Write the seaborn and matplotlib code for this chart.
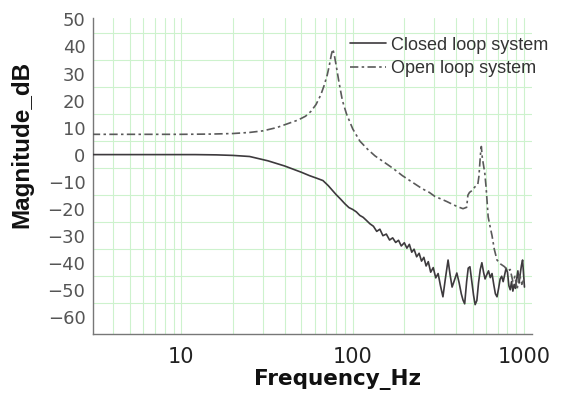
import numpy as np
import pandas as pd
import matplotlib
matplotlib.use("Agg")
import matplotlib.pyplot as plt
from matplotlib.ticker import FixedLocator, NullFormatter
import seaborn as sns

# Closed loop frequency response
closed_freq = [3, 5, 8, 12, 16, 20, 25, 32, 40, 50, 56, 62, 67, 72, 76, 80, 85, 90, 95,
               100, 105, 110, 115, 120, 126, 132, 138, 144, 150, 157, 164, 171, 178, 185,
               192, 200, 207, 214, 221, 228, 236, 244, 252, 260, 268, 276, 285, 295, 305,
               315, 325, 336, 347, 360, 370, 380, 392, 405, 418, 430, 440, 450, 462, 472,
               483, 495, 507, 518, 530, 542, 555, 567, 580, 592, 605, 620, 635, 650, 665,
               680, 695, 710, 725, 740, 755, 770, 785, 800, 815, 830, 845, 860, 875, 890,
               905, 920, 935, 950, 965, 980, 995, 1005]
closed_db = [0, 0, 0, 0, -0.1, -0.3, -0.7, -2.3, -4.2, -6.5, -7.8, -8.8, -9.6, -11.5, -13.2,
             -14.8, -16.5, -18.2, -19.6, -20.3, -21.2, -22.5, -23.2, -24.3, -25.6, -26.5,
             -28.4, -27.6, -30.0, -29.4, -31.6, -30.8, -32.5, -31.7, -33.8, -32.6, -34.6,
             -33.2, -36.1, -35.0, -37.8, -36.5, -39.4, -38.0, -41.2, -39.6, -43.5, -41.8,
             -45.6, -44.0, -48.5, -52.6, -46.0, -39.0, -44.5, -49.0, -46.5, -43.8, -47.5,
             -51.5, -53.8, -55.2, -47.0, -42.0, -41.5, -46.8, -52.0, -55.5, -54.0, -47.5,
             -42.5, -40.0, -43.5, -46.0, -44.5, -43.0, -45.5, -44.0, -48.0, -51.5, -52.6,
             -49.5, -46.0, -45.0, -47.0, -44.5, -42.0, -43.5, -48.5, -50.0, -47.0, -50.5,
             -48.0, -49.5, -46.0, -43.0, -47.5, -44.0, -41.0, -39.0, -45.0, -49.0]

# Open loop frequency response
open_freq = [3, 6, 10, 15, 20, 25, 30, 36, 42, 48, 53, 57, 61, 65, 68, 71, 73, 75, 76.5,
             78, 80, 83, 87, 92, 100, 110, 122, 135, 150, 171, 195, 220, 254, 280, 302,
             330, 355, 385, 410, 440, 462, 470, 480, 492, 503, 515, 527, 537, 545, 552,
             558, 563, 570, 580, 590, 600, 617, 635, 650, 670, 695, 730, 770, 800, 830,
             860, 885, 910, 940, 970, 1000]
open_db = [7.5, 7.5, 7.5, 7.6, 7.8, 8.2, 8.8, 10, 11.5, 12.8, 14.2, 16, 18.5, 22, 25.5,
           29.5, 33, 37, 39, 37, 33, 27, 20, 15, 9.5, 5, 2, -0.5, -2.5, -5, -7.8, -10,
           -12.6, -14, -15.5, -16.5, -17.4, -18.5, -19.3, -20, -19.5, -15, -14, -13.5,
           -13, -12, -11.5, -11, -8, -3, 1, 3, -1, -4, -7, -12, -23, -27, -30, -35, -39,
           -40.5, -41.5, -43, -42.5, -47, -45, -50, -44, -48, -46]

series_names = ["Closed loop system", "Open loop system"]
y_ticks = list(range(-60, 51, 10))
x_ticks = [10, 100, 1000]
x_tick_labels = ["10", "100", "1000"]

df = pd.concat([
    pd.DataFrame({"freq": closed_freq, "mag": closed_db, "system": series_names[0]}),
    pd.DataFrame({"freq": open_freq, "mag": open_db, "system": series_names[1]}),
], ignore_index=True)

sns.set_style("white")
fig = plt.figure(figsize=(5.64, 3.96), dpi=100)
ax = fig.add_axes([0.165, 0.157, 0.778, 0.798])

grid_color = "#cdf2cd"

sns.lineplot(data=df, x="freq", y="mag", hue="system", style="system",
             palette={series_names[0]: "#3d3a3d", series_names[1]: "#5a5a5a"},
             dashes={series_names[0]: "", series_names[1]: (5, 2, 1.5, 2)},
             linewidth=1.2, ax=ax, legend=False, zorder=3)

ax.set_xscale("log")
ax.set_xlim(3.05, 1110)
ax.set_ylim(-66.3, 50.6)

ax.xaxis.set_major_locator(FixedLocator(x_ticks))
ax.set_xticklabels(x_tick_labels)
minor_x = [m * 10 ** e for e in range(0, 3) for m in range(2, 10) if 3 <= m * 10 ** e <= 1000]
ax.xaxis.set_minor_locator(FixedLocator(minor_x))
ax.xaxis.set_minor_formatter(NullFormatter())

ax.set_yticks(y_ticks)
ax.yaxis.set_minor_locator(FixedLocator(list(range(-55, 50, 10))))

ax.grid(True, which="both", axis="x", color=grid_color, linewidth=0.8)
ax.grid(True, which="minor", axis="y", color=grid_color, linewidth=0.8)
ax.grid(False, which="major", axis="y")
ax.set_axisbelow(True)

for side in ["top", "right"]:
    ax.spines[side].set_visible(False)
for side in ["left", "bottom"]:
    ax.spines[side].set_color("#777777")
    ax.spines[side].set_linewidth(1.0)

ax.tick_params(axis="y", which="major", direction="out", length=5, width=1,
               color="#777777", pad=0.5, labelsize=13, labelcolor="#555555")
ax.tick_params(axis="y", which="minor", direction="in", length=2.5, width=0.8,
               color="#888888")
ax.tick_params(axis="x", which="major", direction="inout", length=7, width=1,
               color="#777777", pad=6, labelsize=15, labelcolor="#222222")
ax.tick_params(axis="x", which="minor", direction="inout", length=5, width=0.8,
               color="#777777")
for lab in ax.get_yticklabels():
    lab.set_family("DejaVu Sans")
for lab in ax.get_xticklabels():
    lab.set_family("DejaVu Sans")

ax.set_xlabel("Frequency_Hz", fontsize=15.5, fontweight="bold", family="DejaVu Sans",
              color="#111111")
ax.set_ylabel("Magnitude_dB", fontsize=17.5, fontweight="bold", family="Liberation Sans",
              color="#111111")
ax.xaxis.set_label_coords(0.556, -0.11)
ax.yaxis.set_label_coords(-0.137, 0.60)

handles = ax.get_lines()[:2]
leg = ax.legend(handles, series_names, loc="upper left", bbox_to_anchor=(0.56, 0.975),
                frameon=False, fontsize=13, handlelength=2.0, handletextpad=0.3,
                labelspacing=0.35, borderaxespad=0.2)
for t in leg.get_texts():
    t.set_color("#333333")
    t.set_family("Liberation Sans")

fig.savefig("out.png", dpi=100, facecolor="white")
